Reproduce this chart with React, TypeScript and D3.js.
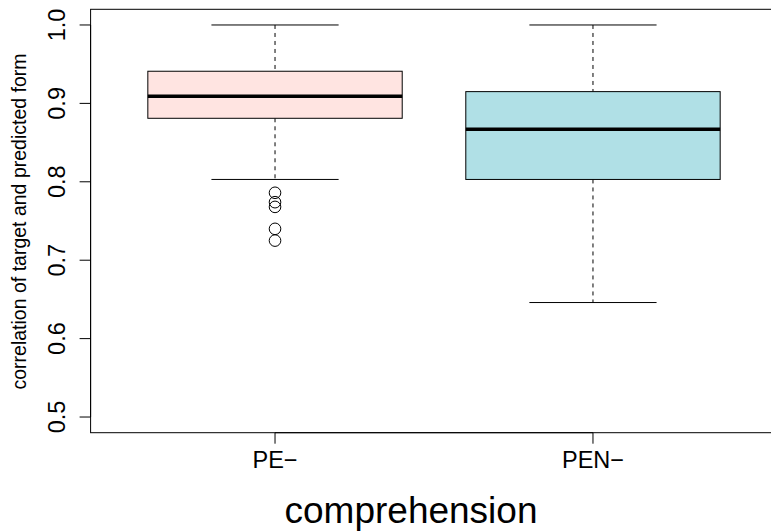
import React, { useEffect, useRef } from 'react';
import * as d3 from 'd3';

const categories = ['PE−', 'PEN−'];
const fills = ['#FFE4E1', '#B0E0E6'];
const whiskerLow = [0.803, 0.646];
const q1 = [0.881, 0.803];
const medians = [0.909, 0.867];
const q3 = [0.941, 0.915];
const whiskerHigh = [1.0, 1.0];
const outliersPE = [0.786, 0.774, 0.768, 0.74, 0.725];
const outliersPEN: number[] = [];
const yTicks = [0.5, 0.6, 0.7, 0.8, 0.9, 1.0];

export default function App() {
  const ref = useRef<SVGSVGElement>(null);

  useEffect(() => {
    const svg = d3.select(ref.current);
    svg.selectAll('*').remove();
    const font = 'Liberation Sans, Arial, Helvetica, sans-serif';

    const x = d3.scaleLinear().domain([0.42, 2.58]).range([90.6, 777.4]);
    const y = d3.scaleLinear().domain([0.48, 1.02]).range([432.7, 9.3]);
    const boxW = x(1.4) - x(1);
    const capW = x(1.2) - x(1);
    const outliers = [outliersPE, outliersPEN];

    const data = categories.map((c, i) => ({
      c, i, pos: i + 1, lo: whiskerLow[i], q1: q1[i], med: medians[i], q3: q3[i], hi: whiskerHigh[i], out: outliers[i], fill: fills[i]
    }));

    const g = svg.append('g');
    const b = g.selectAll('g.box').data(data).enter().append('g');

    // whiskers (dashed) and caps
    b.append('line').attr('x1', d => x(d.pos)).attr('x2', d => x(d.pos))
      .attr('y1', d => y(d.hi)).attr('y2', d => y(d.q3))
      .attr('stroke', '#000').attr('stroke-dasharray', '4,4');
    b.append('line').attr('x1', d => x(d.pos)).attr('x2', d => x(d.pos))
      .attr('y1', d => y(d.q1)).attr('y2', d => y(d.lo))
      .attr('stroke', '#000').attr('stroke-dasharray', '4,4');
    b.append('line').attr('x1', d => x(d.pos) - capW).attr('x2', d => x(d.pos) + capW)
      .attr('y1', d => y(d.hi)).attr('y2', d => y(d.hi)).attr('stroke', '#000');
    b.append('line').attr('x1', d => x(d.pos) - capW).attr('x2', d => x(d.pos) + capW)
      .attr('y1', d => y(d.lo)).attr('y2', d => y(d.lo)).attr('stroke', '#000');

    // boxes + medians
    b.append('rect').attr('x', d => x(d.pos) - boxW).attr('width', boxW * 2)
      .attr('y', d => y(d.q3)).attr('height', d => y(d.q1) - y(d.q3))
      .attr('fill', d => d.fill).attr('stroke', '#000');
    b.append('line').attr('x1', d => x(d.pos) - boxW).attr('x2', d => x(d.pos) + boxW)
      .attr('y1', d => y(d.med)).attr('y2', d => y(d.med))
      .attr('stroke', '#000').attr('stroke-width', 3.5);

    // outliers
    b.selectAll('circle').data(d => d.out.map(v => ({ v, pos: d.pos }))).enter().append('circle')
      .attr('cx', d => x(d.pos)).attr('cy', d => y(d.v)).attr('r', 5.8)
      .attr('fill', 'none').attr('stroke', '#000');

    // frame
    g.append('rect').attr('x', x(0.42)).attr('y', y(1.02))
      .attr('width', x(2.58) - x(0.42)).attr('height', y(0.48) - y(1.02))
      .attr('fill', 'none').attr('stroke', '#000');

    // y axis
    g.append('line').attr('x1', x(0.42)).attr('x2', x(0.42))
      .attr('y1', y(0.5)).attr('y2', y(1.0)).attr('stroke', '#000');
    g.selectAll('line.yt').data(yTicks).enter().append('line')
      .attr('x1', x(0.42) - 11).attr('x2', x(0.42)).attr('y1', d => y(d)).attr('y2', d => y(d)).attr('stroke', '#000');
    g.selectAll('text.yt').data(yTicks).enter().append('text')
      .attr('transform', d => `translate(65,${y(d)}) rotate(-90)`)
      .attr('text-anchor', 'middle').attr('font-family', font).attr('font-size', 23.5)
      .text(d => d3.format('.1f')(d));

    // x axis
    g.append('line').attr('x1', x(1)).attr('x2', x(2))
      .attr('y1', y(0.48)).attr('y2', y(0.48)).attr('stroke', '#000');
    g.selectAll('line.xt').data(data).enter().append('line')
      .attr('x1', d => x(d.pos)).attr('x2', d => x(d.pos))
      .attr('y1', y(0.48)).attr('y2', y(0.48) + 11).attr('stroke', '#000');
    g.selectAll('text.xt').data(data).enter().append('text')
      .attr('x', d => x(d.pos)).attr('y', 468)
      .attr('text-anchor', 'middle').attr('font-family', font).attr('font-size', 23.5)
      .text(d => d.c);

    // titles
    g.append('text').attr('x', (x(1) + x(2)) / 2 - 23).attr('y', 523)
      .attr('text-anchor', 'middle').attr('font-family', font).attr('font-size', 37)
      .text('comprehension');
    g.append('text').attr('transform', `translate(26,221.5) rotate(-90)`)
      .attr('text-anchor', 'middle').attr('font-family', font).attr('font-size', 19.5)
      .text('correlation of target and predicted form');
  }, []);

  return (
    <svg ref={ref} width={771} height={531}
      style={{ position: 'absolute', left: 0, top: 0, background: '#fff', display: 'block' }} />
  );
}
